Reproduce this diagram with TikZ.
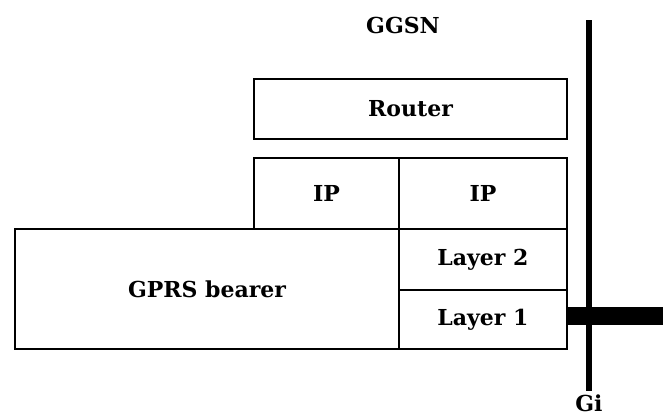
\documentclass[tikz,border=0pt]{standalone}
\usepackage{fontspec}
\setmainfont{DejaVu Serif}
\begin{document}
\begin{tikzpicture}[x=1pt,y=-1pt,
  layer/.style={draw, line width=2.4pt, inner sep=0pt, font=\bfseries\fontsize{22}{26}\selectfont},
  lbl/.style={inner sep=0pt, font=\bfseries\fontsize{22}{26}\selectfont},
  ifline/.style={line width=6pt},
  ifbar/.style={line width=18pt}]
\useasboundingbox (0,0) rectangle (663,415);
% protocol stack of the gateway node
\node[layer, minimum width=313pt, minimum height=60pt] (router) at (410.5,109) {Router};
\node[layer, minimum width=145pt, minimum height=71pt] (ipl) at (326.5,193.5) {IP};
\node[layer, minimum width=168pt, minimum height=71pt] (ipr) at (483,193.5) {IP};
\node[layer, minimum width=384pt, minimum height=120pt] (gprs) at (207,289) {GPRS bearer};
\node[layer, minimum width=168pt, minimum height=61pt] (l2) at (483,259.5) {Layer 2};
\node[layer, minimum width=168pt, minimum height=59pt] (l1) at (483,319.5) {Layer 1};
% labels
\node[lbl] (ggsn) at (403,25) {GGSN};
\node[lbl] (gi) at (589,403) {Gi};
% Gi reference point and external link
\coordinate (gitop) at (589,20);
\coordinate (gibot) at (589,391);
\coordinate (ext) at (663,316);
\draw[ifline] (gitop) -- (gibot);
\draw[ifbar] (l1.east |- ext) -- (ext);
\end{tikzpicture}
\end{document}
